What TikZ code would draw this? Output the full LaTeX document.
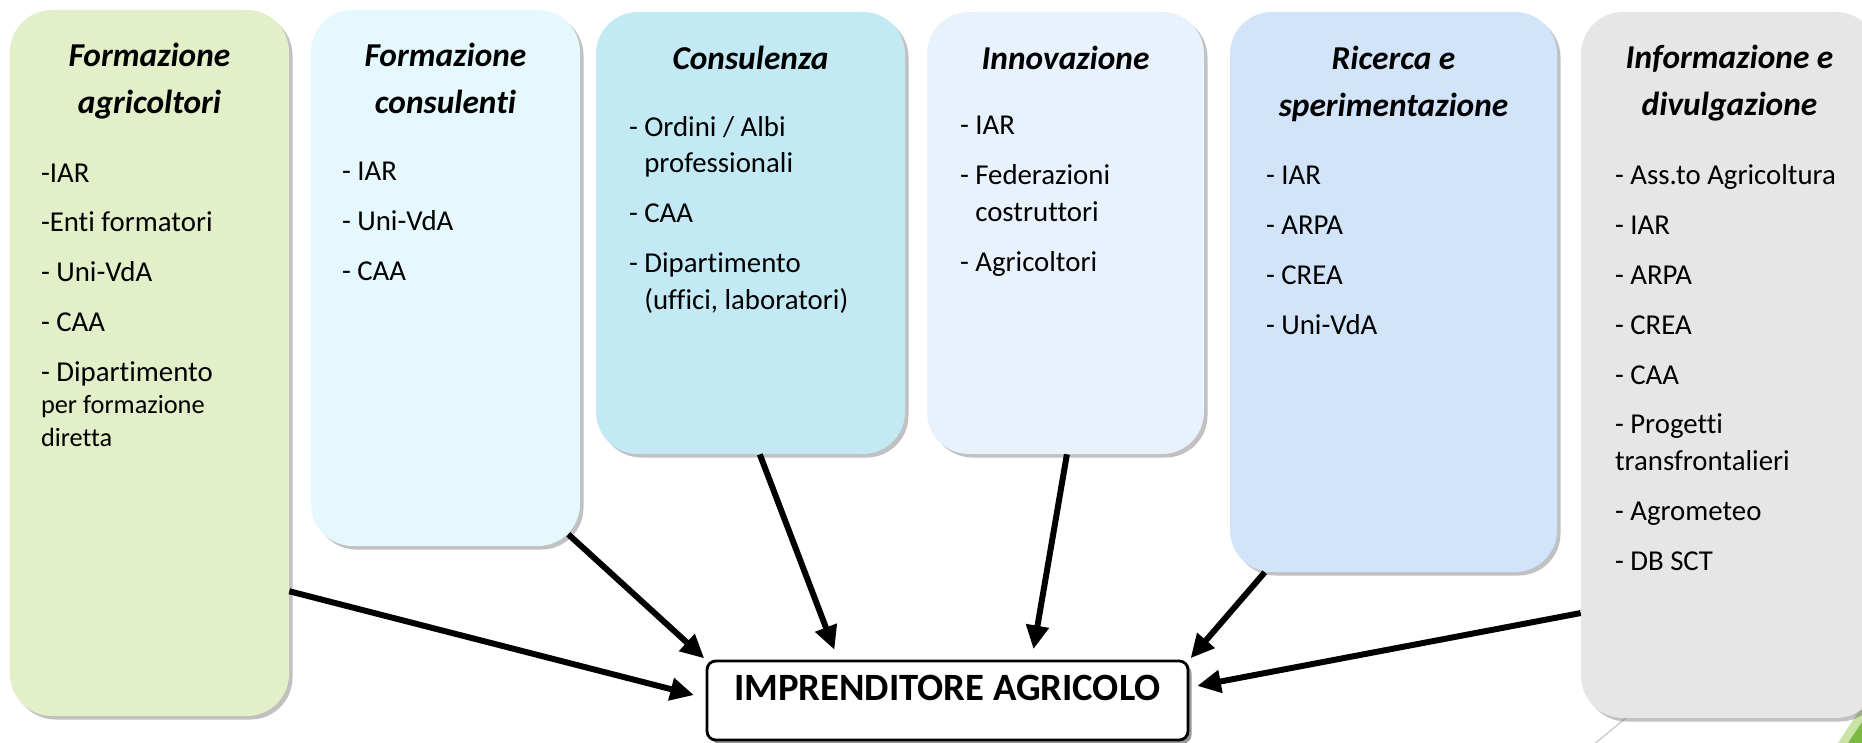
\documentclass[tikz,border=0pt]{standalone}
\usepackage{fontspec}
\setmainfont{Carlito}[Ligatures={NoCommon,NoRare}]
\usetikzlibrary{arrows.meta,calc,fit,shadows}

\definecolor{agrigreen}{HTML}{E2EFC9}
\definecolor{consulcyan}{HTML}{E5F8FD}
\definecolor{advicecyan}{HTML}{C3E9F4}
\definecolor{innoblue}{HTML}{E8F2FC}
\definecolor{researchblue}{HTML}{D2E4FA}
\definecolor{infogray}{HTML}{E6E6E6}
\definecolor{slidegreen}{HTML}{7DB843}
\definecolor{slidelight}{HTML}{C9E3A6}

\tikzset{
  panel/.style={draw=none, inner sep=0pt, rounded corners=0.84cm,
    drop shadow={shadow xshift=2pt, shadow yshift=-2pt, opacity=0.35, fill=black!70}},
  heading/.style={font=\fontsize{19}{27}\selectfont\bfseries\itshape,
    align=center, anchor=base, inner sep=0pt},
  entries/.style={font=\fontsize{16.4}{21}\selectfont,
    align=left, anchor=base west, inner sep=0pt},
  farmer/.style={draw=black, line width=1.6pt, fill=white, rounded corners=5pt,
    inner sep=0pt, font=\fontsize{22}{26}\selectfont\bfseries,
    drop shadow={shadow xshift=2pt, shadow yshift=-2pt, opacity=0.5, fill=black!80}},
  feed/.style={line width=3.4pt, -{Triangle[length=13.5pt,width=12.5pt]}},
}
\newcommand{\gap}{\\[7.4pt]}
\newcommand{\hang}{\phantom{- }}

\begin{document}
\begin{tikzpicture}[x=0.02cm, y=-0.02cm]
  \useasboundingbox (0,0) rectangle (1862,743);

  % slide ornament, bottom right
  \draw[black!22, line width=0.7pt] (1592,746) -- (1720,640);
  \fill[slidelight] (1838,743) -- (1866,700) -- (1866,743) -- cycle;
  \fill[slidegreen] (1848,743) -- (1866,716) -- (1866,743) -- cycle;

  % panels
  \node[panel, fill=agrigreen, fit={(10,10) (289,716)}] (fa) {};
  \node[panel, fill=consulcyan, fit={(311,10) (580,546)}] (fc) {};
  \node[panel, fill=advicecyan, fit={(596,12) (905,454)}] (cons) {};
  \node[panel, fill=innoblue, fit={(927,12) (1204,454)}] (inn) {};
  \node[panel, fill=researchblue, fit={(1230,12) (1557,572)}] (ric) {};
  \node[panel, fill=infogray, fit={(1581,12) (1878,718)}] (inf) {};

  % headings (base = last line)
  \node[heading] (fa-t) at ($(fa.north)+(0,104)$) {Formazione\\agricoltori};
  \node[heading] (fc-t) at ($(fc.north)+(0,104)$) {Formazione\\consulenti};
  \node[heading] (cons-t) at ($(cons.north)+(0,58)$) {Consulenza};
  \node[heading] (inn-t) at ($(inn.north)+(0,58)$) {Innovazione};
  \node[heading] (ric-t) at ($(ric.north)+(0,105)$) {Ricerca e\\sperimentazione};
  \node[heading] (inf-t) at ($(inf.north)+(0,104)$) {Informazione e\\divulgazione};

  % lists (base = last line)
  \node[entries] (fa-l) at ($(fa.north west)+(31,437)$)
    {-IAR\gap -Enti formatori\gap - Uni-VdA\gap - CAA\gap - Dipartimento\\[-3pt]
     {\fontsize{15}{18.7}\selectfont per formazione}\\[-2pt]
     {\fontsize{15}{18.7}\selectfont diretta}};
  \node[entries] (fc-l) at ($(fc.north west)+(31,271)$)
    {- IAR\gap - Uni-VdA\gap - CAA};
  \node[entries] (cons-l) at ($(cons.north west)+(33,298)$)
    {- Ordini / Albi\\ \hang professionali\gap - CAA\gap - Dipartimento\\ \hang (uffici, laboratori)};
  \node[entries] (inn-l) at ($(inn.north west)+(33,260)$)
    {- IAR\gap - Federazioni\\ \hang costruttori\gap - Agricoltori};
  \node[entries] (ric-l) at ($(ric.north west)+(36,323)$)
    {- IAR\gap - ARPA\gap - CREA\gap - Uni-VdA};
  \node[entries] (inf-l) at ($(inf.north west)+(34,559)$)
    {- Ass.to Agricoltura\gap - IAR\gap - ARPA\gap - CREA\gap - CAA\gap
     - Progetti\\ transfrontalieri\gap - Agrometeo\gap - DB SCT};

  % target
  \node[farmer, fit={(707,661) (1188,740)}] (imp) {IMPRENDITORE AGRICOLO};

  % arrows
  \draw[feed, shorten >=6.8pt] ($(fa.north east)!0.823!(fa.south east)$) -- ($(imp.north west)!0.47!(imp.south west)$);
  \draw[feed, shorten >=1pt] ($(fc.south east)+(-12,-12)$) -- (imp.north west);
  \draw[feed, shorten >=6pt] ($(cons.south west)!0.53!(cons.south east)$) -- ($(imp.north west)!0.274!(imp.north east)$);
  \draw[feed, shorten >=6pt] ($(inn.south west)!0.505!(inn.south east)$) -- ($(imp.north west)!0.674!(imp.north east)$);
  \draw[feed, shorten >=1pt] ($(ric.south west)!0.107!(ric.south east)$) -- (imp.north east);
  \draw[feed, shorten >=4.5pt] ($(inf.north west)!0.851!(inf.south west)$) -- ($(imp.north east)!0.34!(imp.south east)$);
\end{tikzpicture}
\end{document}
